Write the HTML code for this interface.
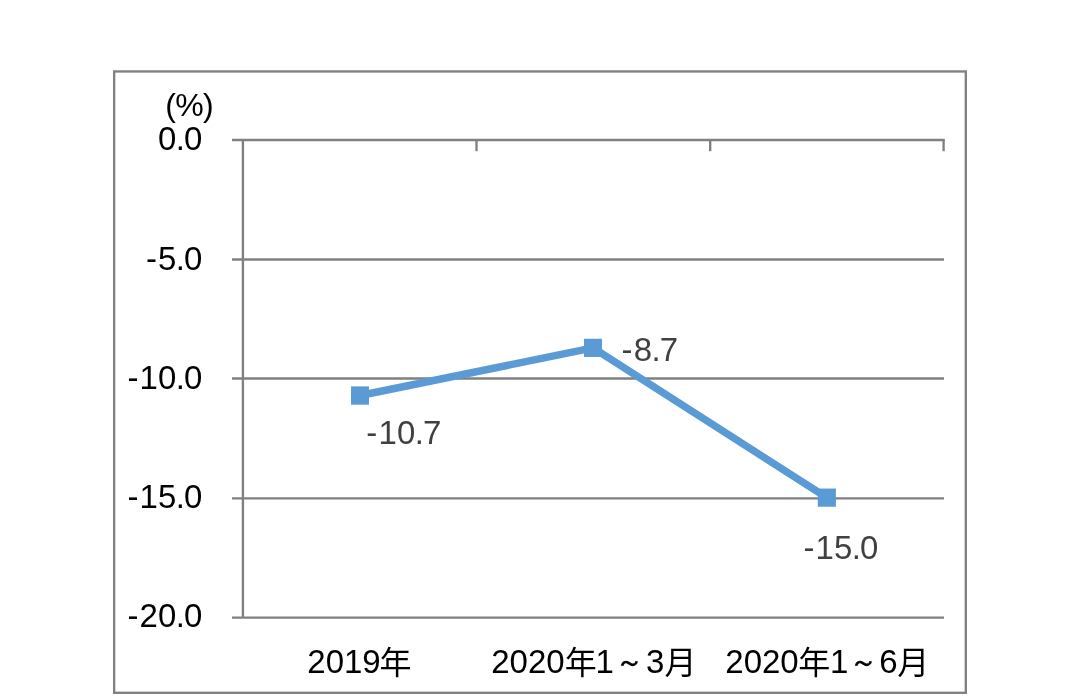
<!DOCTYPE html>
<html lang="zh">
<head>
<meta charset="utf-8">
<title>Chart</title>
<style>
html,body{margin:0;padding:0;background:#fff;}
body{width:1080px;height:696px;overflow:hidden;position:relative;}
svg{position:absolute;left:0;top:0;display:block;}
text{font-family:"Liberation Sans","Noto Sans CJK SC",sans-serif;font-size:33px;}
.cj{font-size:32px;}
.td{font-family:"WenQuanYi Zen Hei","Liberation Sans",sans-serif;font-size:27px;stroke:#000;stroke-width:0.8px;}
.ax{fill:#000;}
.dl{fill:#404040;}
</style>
</head>
<body>
<svg width="1080" height="696" viewBox="0 0 1080 696">
  <rect x="0" y="0" width="1080" height="696" fill="#ffffff"/>
  <!-- outer frame -->
  <rect x="114.15" y="71.45" width="851.65" height="621.35" fill="none" stroke="#808080" stroke-width="2.35"/>
  <!-- gridlines -->
  <g stroke="#808080" stroke-width="2.35" fill="none">
    <line x1="232" y1="140" x2="944.8" y2="140"/>
    <line x1="232" y1="259.5" x2="944" y2="259.5"/>
    <line x1="232" y1="378.45" x2="944" y2="378.45"/>
    <line x1="232" y1="498.4" x2="944" y2="498.4"/>
    <line x1="232" y1="617.6" x2="944" y2="617.6"/>
    <line x1="242.9" y1="140" x2="242.9" y2="617.6"/>
    <line x1="476.5" y1="140" x2="476.5" y2="151.2"/>
    <line x1="710.2" y1="140" x2="710.2" y2="151.2"/>
    <line x1="943.6" y1="140" x2="943.6" y2="151.2"/>
  </g>
  <!-- series -->
  <polyline points="360,395.5 593,347.85 826.9,497.65" fill="none" stroke="#5b9bd5" stroke-width="7.5" stroke-linejoin="round"/>
  <g fill="#5b9bd5">
    <rect x="351" y="386.4" width="18" height="18.3"/>
    <rect x="584" y="338.75" width="18" height="18.2"/>
    <rect x="817.8" y="488.55" width="18.1" height="18.2"/>
  </g>
  <!-- y labels -->
  <g class="ax">
    <text x="213" y="115.6" text-anchor="end" style="font-size:32px;letter-spacing:-0.7px">(%)</text>
    <text transform="translate(0,150) scale(1,1.035)" x="158.12 175.72 184.12" y="0">0.0</text>
    <text transform="translate(0,269.7) scale(1,1.035)" x="145.91 158.12 175.72 184.12" y="0">-5.0</text>
    <text transform="translate(0,388.7) scale(1,1.035)" x="127.41 139.62 158.12 175.72 184.12" y="0">-10.0</text>
    <text transform="translate(0,508.4) scale(1,1.035)" x="127.41 139.62 158.12 175.72 184.12" y="0">-15.0</text>
    <text transform="translate(0,627.4) scale(1,1.035)" x="127.41 139.62 158.12 175.72 184.12" y="0">-20.0</text>
  </g>
  <!-- data labels -->
  <g class="dl">
    <text transform="translate(0,444.4) scale(1,1.035)" x="366.36 378.57 397.07 414.67 423.07" y="0">-10.7</text>
    <text transform="translate(0,360.6) scale(1,1.035)" x="621.61 633.82 651.42 659.82" y="0">-8.7</text>
    <text transform="translate(0,558.7) scale(1,1.035)" x="803.41 815.62 834.12 851.72 860.12" y="0">-15.0</text>
  </g>
  <!-- x labels -->
  <g class="ax">
    <text x="307.3" y="673">2019<tspan class="cj" x="379.5" y="674">年</tspan></text>
    <text x="491.2" y="673">2020<tspan class="cj" x="564.8" y="674">年</tspan><tspan x="595.5" y="673">1</tspan><tspan class="td" x="616" y="671.1">～</tspan><tspan x="646" y="673">3</tspan><tspan class="cj" x="664.5" y="674">月</tspan></text>
    <text x="725.3" y="673">2020<tspan class="cj" x="798.3" y="674">年</tspan><tspan x="830" y="673">1</tspan><tspan class="td" x="850" y="671.1">～</tspan><tspan x="879.3" y="673">6</tspan><tspan class="cj" x="897.3" y="674">月</tspan></text>
  </g>
</svg>
</body>
</html>
